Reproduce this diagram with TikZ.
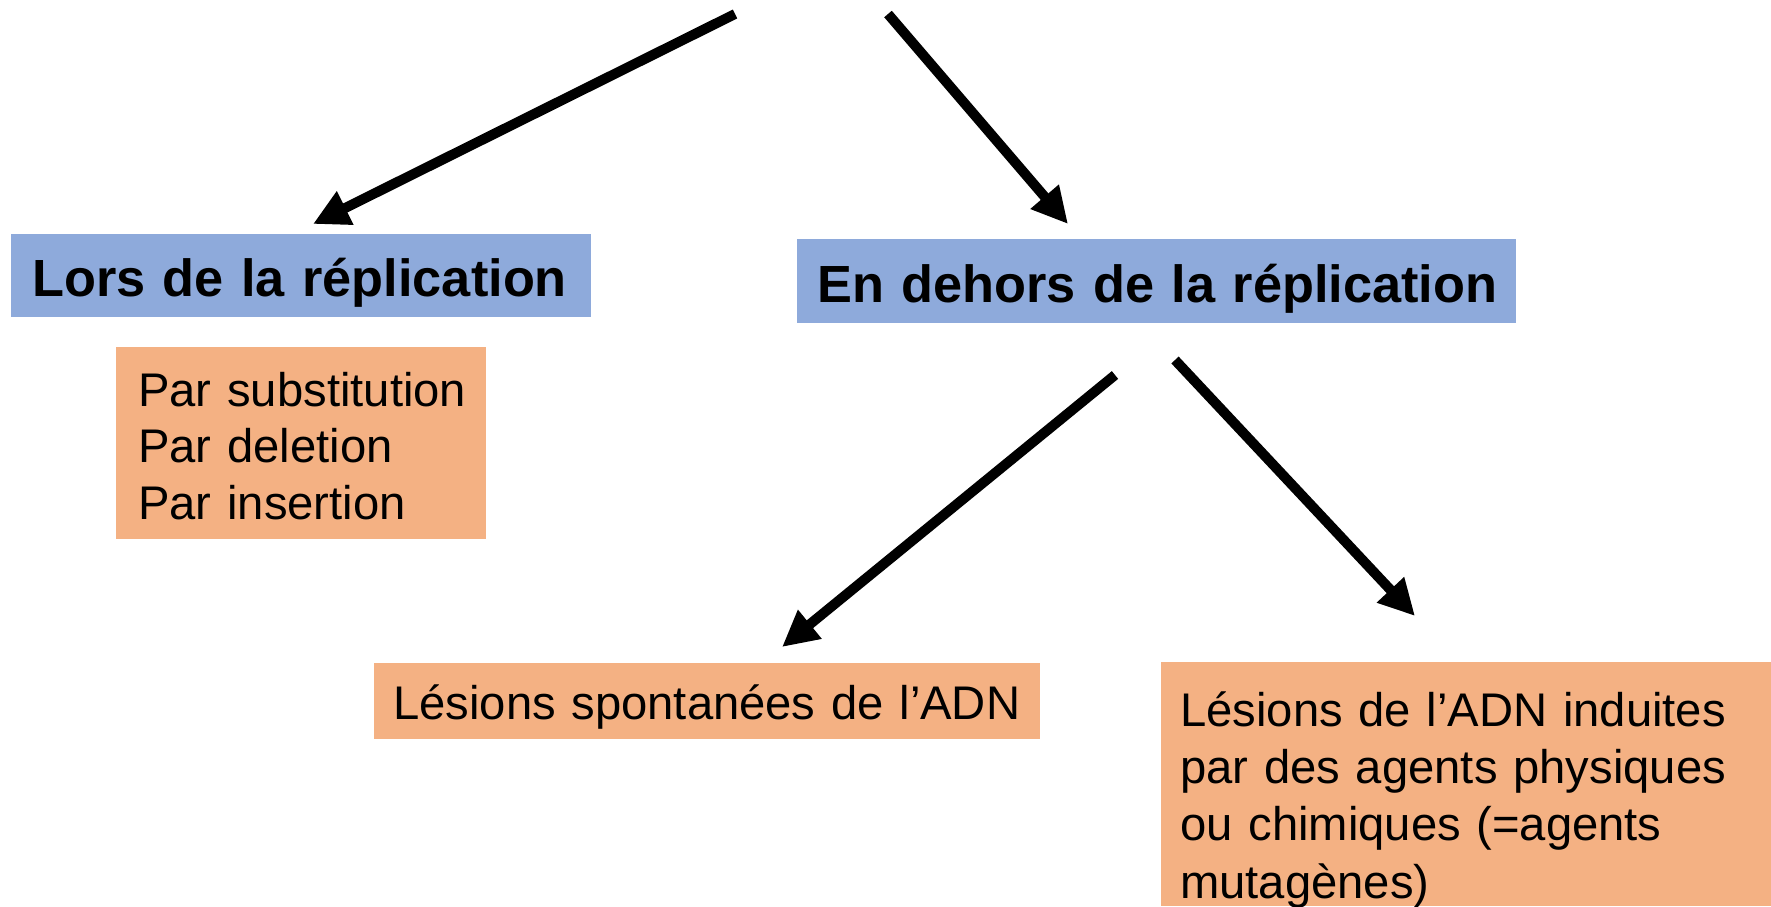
\documentclass[tikz,border=0pt]{standalone}
\usepackage{fontspec}
\setmainfont{Liberation Sans}
\usetikzlibrary{arrows.meta}

\definecolor{boxblue}{HTML}{8EAADB}
\definecolor{boxorange}{HTML}{F4B183}

\tikzset{
  head/.style={fill=boxblue, inner ysep=0pt, inner xsep=21pt, anchor=north west,
    align=left, font=\bfseries\fontsize{52.3}{64}\selectfont},
  leaf/.style={fill=boxorange, inner ysep=0pt, inner xsep=19pt, anchor=north west,
    align=left, font=\fontsize{47.2}{57.3}\selectfont},
  link/.style={line width=10pt, black, -{Triangle[length=36pt,width=35pt]}},
}

\begin{document}
\begin{tikzpicture}[x=1pt, y=-1pt]
  \useasboundingbox (0,0) rectangle (1771,906);

  % category boxes
  \node[head, text width=538pt, text height=62pt, text depth=21pt] (lors) at (11,234)
    {\mbox{Lors de la réplication}};
  \node[head, inner xsep=20pt, text width=679pt, text height=63pt, text depth=21pt] (dehors) at (797,239)
    {\mbox{En dehors de la réplication}};

  % detail boxes
  \node[leaf, inner xsep=22pt, text width=326pt, text height=59pt, text depth=133pt,
        font=\fontsize{47.2}{56.5}\selectfont] (types) at (116,347)
    {\mbox{Par substitution}\\Par deletion\\Par insertion};
  \node[leaf, text width=628pt, text height=56pt, text depth=20pt] (spont) at (374,663)
    {\mbox{Lésions spontanées de l’ADN}};
  \node[leaf, text width=572pt, text height=64pt, text depth=180pt] (induites) at (1161,662)
    {Lésions de l’ADN induites\\par des agents physiques\\ou chimiques (=agents\\mutagènes)};

  % arrow end points
  \coordinate (s1) at (735,14);   \coordinate (t1) at (313,224);
  \coordinate (s2) at (888,14);   \coordinate (t2) at (1068,224);
  \coordinate (s3) at (1115,375); \coordinate (t3) at (782,647);
  \coordinate (s4) at (1175,360); \coordinate (t4) at (1415,616);

  \draw[link] (s1) -- (t1);
  \draw[link] (s2) -- (t2);
  \draw[link] (s3) -- (t3);
  \draw[link] (s4) -- (t4);
\end{tikzpicture}
\end{document}
